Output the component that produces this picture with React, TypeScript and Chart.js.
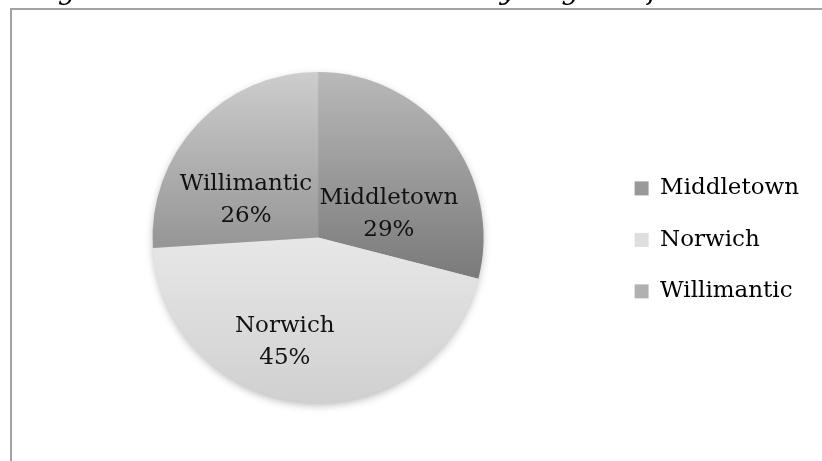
import React, { useEffect, useRef } from "react";
import { Chart, registerables } from "chart.js";

Chart.register(...registerables);

// ---- data ----
const titleText = "Figure 4: Arrest Cases Handled by Region of CT Courts";
const regions = ["Middletown", "Norwich", "Willimantic"];
const shares = [29, 45, 26];

// ---- styles ----
const gradientTop = ["#b9b9b9", "#e7e7e7", "#cdcdcd"];
const gradientBottom = ["#7a7a7a", "#d0d0d0", "#959595"];
const legendSwatch = ["#999999", "#dedede", "#b0b0b0"];
// where inside each slice its label sits (fraction of the slice's angle / of the radius)
const labelAngleFrac = [0.69, 0.576, 0.33];
const labelRadiusFrac = [0.45, 0.66, 0.49];

const FONT = '"DejaVu Serif", serif';

const total = shares.reduce((a, b) => a + b, 0);
const pctLabels = shares.map((v) => Math.round((v / total) * 100) + "%");

function sliceGradient(c: any) {
  const chart = c.chart;
  const i = c.dataIndex;
  const area = chart.chartArea;
  if (!area || i === undefined) return legendSwatch[i ?? 0];
  const cx = (area.left + area.right) / 2;
  const cy = (area.top + area.bottom) / 2;
  const r = Math.min(area.right - area.left, area.bottom - area.top) / 2;
  let before = 0;
  for (let k = 0; k < i; k++) before += shares[k];
  const f0 = before / total;
  const f1 = (before + shares[i]) / total;
  const a0 = -Math.PI / 2 + f0 * 2 * Math.PI;
  const a1 = -Math.PI / 2 + f1 * 2 * Math.PI;
  let top = Math.min(cy, cy + r * Math.sin(a0), cy + r * Math.sin(a1));
  let bottom = Math.max(cy, cy + r * Math.sin(a0), cy + r * Math.sin(a1));
  if (f0 <= 1e-9 || f1 >= 1 - 1e-9) top = cy - r;
  if (a0 <= Math.PI / 2 && a1 >= Math.PI / 2) bottom = cy + r;
  const g = chart.ctx.createLinearGradient(0, top, 0, bottom);
  g.addColorStop(0, gradientTop[i]);
  g.addColorStop(1, gradientBottom[i]);
  return g;
}

const shadowPlugin = {
  id: "pieShadow",
  beforeDatasetsDraw(chart: any) {
    const arc = chart.getDatasetMeta(0).data[0];
    if (!arc) return;
    const p = arc.getProps(["x", "y", "outerRadius"], true);
    const ctx = chart.ctx;
    ctx.save();
    ctx.shadowColor = "rgba(0,0,0,0.3)";
    ctx.shadowBlur = 9;
    ctx.shadowOffsetX = 0;
    ctx.shadowOffsetY = 3;
    ctx.beginPath();
    ctx.arc(p.x, p.y, p.outerRadius - 1, 0, Math.PI * 2);
    ctx.fillStyle = "#d8d8d8";
    ctx.fill();
    ctx.restore();
  },
};

const sliceLabelPlugin = {
  id: "sliceLabels",
  afterDatasetsDraw(chart: any) {
    const meta = chart.getDatasetMeta(0);
    const ctx = chart.ctx;
    ctx.save();
    ctx.font = "23px " + FONT;
    ctx.fillStyle = "#111111";
    ctx.textAlign = "center";
    ctx.textBaseline = "middle";
    meta.data.forEach((arc: any, i: number) => {
      const p = arc.getProps(["x", "y", "startAngle", "endAngle", "outerRadius"], true);
      const a = p.startAngle + labelAngleFrac[i] * (p.endAngle - p.startAngle);
      const r = labelRadiusFrac[i] * p.outerRadius;
      const x = p.x + r * Math.cos(a);
      const y = p.y + r * Math.sin(a);
      ctx.fillText(regions[i], x, y - 16);
      ctx.fillText(pctLabels[i], x, y + 16);
    });
    ctx.restore();
  },
};

export default function App() {
  const ref = useRef<HTMLCanvasElement | null>(null);

  useEffect(() => {
    if (!ref.current) return;
    const chart = new Chart(ref.current, {
      type: "pie",
      data: {
        labels: regions,
        datasets: [
          {
            data: shares,
            backgroundColor: sliceGradient as any,
            borderWidth: 0,
          },
        ],
      },
      options: {
        responsive: false,
        animation: false,
        devicePixelRatio: 1,
        layout: { padding: { left: 30, right: 13, top: 0, bottom: 58 } },
        plugins: {
          title: {
            display: true,
            text: titleText,
            align: "start",
            color: "#000000",
            font: { family: FONT, size: 28, style: "italic", weight: "normal" },
            padding: { top: 0, bottom: 63.4 },
          },
          legend: {
            position: "right",
            fullSize: false,
            title: { display: true, text: " ", font: { size: 4 }, padding: 0 },
            labels: {
              color: "#000000",
              font: { family: FONT, size: 23 },
              boxWidth: 14,
              boxHeight: 14,
              padding: 28.5,
              generateLabels: () =>
                regions.map((name, i) => ({
                  text: name,
                  fillStyle: legendSwatch[i],
                  strokeStyle: legendSwatch[i],
                  lineWidth: 0,
                  hidden: false,
                  index: i,
                  fontColor: "#000000",
                })),
            },
          },
          tooltip: { enabled: false },
        },
      } as any,
      plugins: [shadowPlugin, sliceLabelPlugin],
    });
    return () => chart.destroy();
  }, []);

  return (
    <div
      style={{
        position: "fixed",
        left: 0,
        top: 0,
        width: 822,
        height: 461,
        overflow: "hidden",
        background: "#ffffff",
      }}
    >
      <div
        style={{
          position: "absolute",
          left: 10,
          top: 8,
          right: -10,
          bottom: -10,
          borderLeft: "2px solid #a3a3a3",
          borderTop: "2px solid #a3a3a3",
        }}
      />
      <canvas
        ref={ref}
        width={822}
        height={486}
        style={{ position: "absolute", left: 0, top: -25, width: 822, height: 486, display: "block" }}
      />
    </div>
  );
}
